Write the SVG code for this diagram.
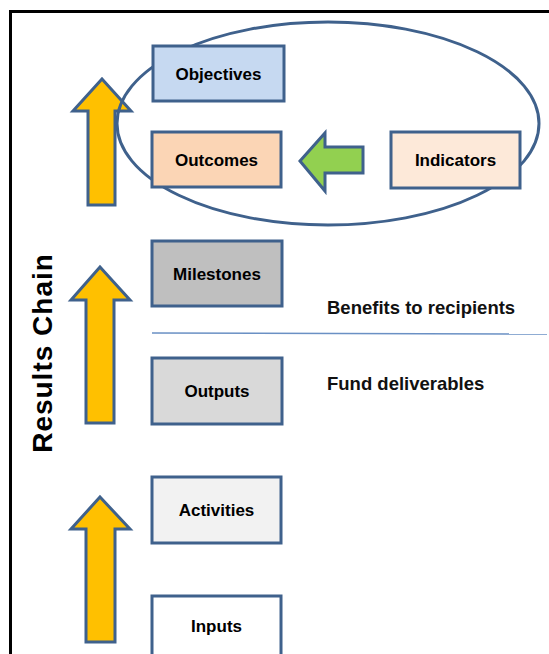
<svg xmlns="http://www.w3.org/2000/svg" width="549" height="654" viewBox="0 0 549 654">
<defs>
<style>
.box{stroke:#3f618c;stroke-width:3}
.arrow{fill:#ffc000;stroke:#3f618c;stroke-width:3;stroke-linejoin:miter}
.lbl{font-family:"Liberation Sans",Arial,sans-serif;font-weight:bold;font-size:17px;fill:#000;text-anchor:middle}
.note{font-family:"Liberation Sans",Arial,sans-serif;font-weight:bold;font-size:18.5px;fill:#111}
</style>
</defs>
<rect x="0" y="0" width="549" height="654" fill="#fff"/>
<g id="frame">
<line x1="9" y1="11.5" x2="549" y2="11.5" stroke="#000" stroke-width="3"/>
<line x1="10.5" y1="10" x2="10.5" y2="654" stroke="#000" stroke-width="3"/>
</g>
<text x="0" y="0" transform="translate(52,353) rotate(-90)" font-family="'Liberation Sans',Arial,sans-serif" font-weight="bold" font-size="28" text-anchor="middle" letter-spacing="1" fill="#000">Results Chain</text>
<g id="connectors">
<polygon class="arrow" points="102,79 131,111 115,111 115,205 88,205 88,111 73,111"/>
<polygon class="arrow" points="100,267 130,300 114,300 114,423 86,423 86,300 71,300"/>
<polygon class="arrow" points="100,497 130,529 115,529 115,642 86,642 86,529 71,529"/>
<polygon points="300,161 325,133 325,147 363,147 363,173 325,173 325,191" fill="#92d050" stroke="#3f618c" stroke-width="3"/>
</g>
<ellipse id="scope" cx="328" cy="123.5" rx="211" ry="101.5" fill="none" stroke="#3f618c" stroke-width="3"/>
<line id="divider" x1="152" y1="333" x2="547" y2="334" stroke="#6a90c4" stroke-width="1.5"/>
<g id="objectives"><rect class="box" x="153" y="46" width="131" height="55" fill="#c6d9f1"/><text class="lbl" x="218.5" y="80">Objectives</text></g>
<g id="outcomes"><rect class="box" x="152" y="132" width="129" height="55" fill="#fbd5b5"/><text class="lbl" x="216.5" y="166">Outcomes</text></g>
<g id="indicators"><rect class="box" x="391" y="132" width="129" height="56" fill="#fde9d9"/><text class="lbl" x="455.5" y="166">Indicators</text></g>
<g id="milestones"><rect class="box" x="152" y="241" width="130" height="65" fill="#bfbfbf"/><text class="lbl" x="217" y="279.5">Milestones</text></g>
<g id="outputs"><rect class="box" x="152" y="358" width="130" height="66" fill="#d9d9d9"/><text class="lbl" x="217" y="397">Outputs</text></g>
<g id="activities"><rect class="box" x="152" y="477" width="129" height="66" fill="#f2f2f2"/><text class="lbl" x="216.5" y="516">Activities</text></g>
<g id="inputs"><rect class="box" x="152" y="596" width="129" height="62" fill="#ffffff"/><text class="lbl" x="216.5" y="632">Inputs</text></g>
<text class="note" x="327" y="314">Benefits to recipients</text>
<text class="note" x="327" y="390">Fund deliverables</text>
</svg>
